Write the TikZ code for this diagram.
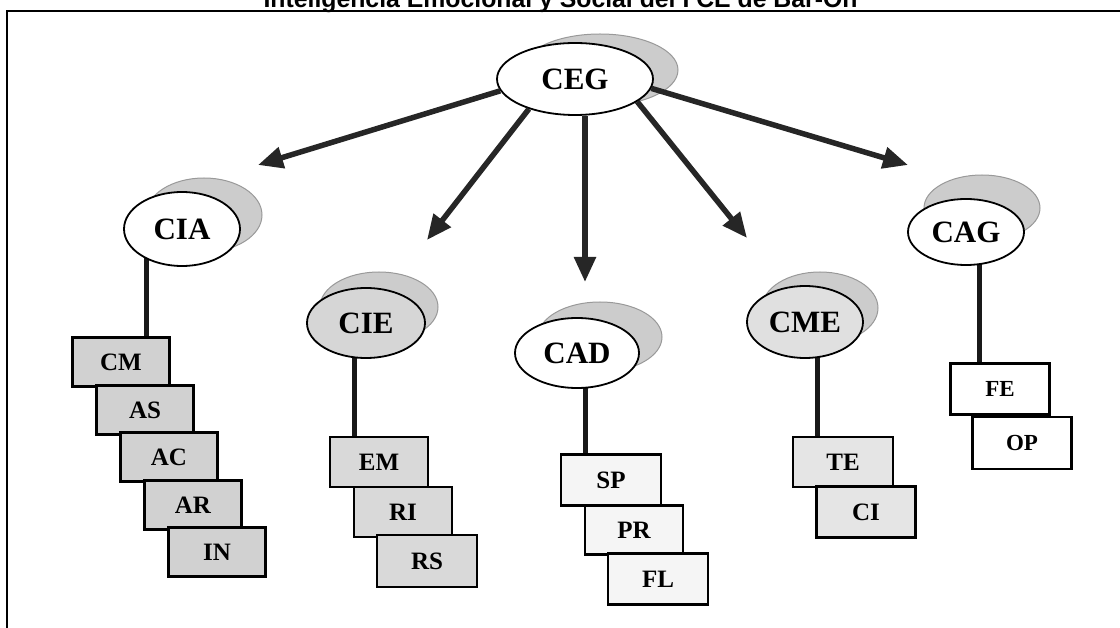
\documentclass[tikz,border=0pt]{standalone}
\usepackage{fontspec}
\setmainfont{Liberation Serif}
\newfontfamily\titlefont{Liberation Sans}
\usetikzlibrary{shapes.geometric,arrows.meta,backgrounds}
\begin{document}
\begin{tikzpicture}[x=1pt,y=-1pt,
  oval/.style={ellipse,draw,line width=1.8pt,inner sep=0pt,font=\fontsize{31}{31}\selectfont\bfseries},
  ovalshadow/.style={ellipse,draw=black!40,line width=1pt,fill=black!20,inner sep=0pt},
  sbox/.style={rectangle,draw,line width=2.6pt,inner sep=0pt,minimum width=97pt,minimum height=49pt,font=\fontsize{25}{25}\selectfont\bfseries},
  stemline/.style={line width=5pt,draw=black!90},
  arr/.style={line width=5.5pt,draw=black!85,-{Triangle[length=25pt,width=21pt]}}
]
\useasboundingbox (0,0) rectangle (1120,628);
% title (clipped at top, as in the reference) and frame
\node[anchor=base,font=\titlefont\fontsize{24.8}{24.8}\selectfont\bfseries,inner sep=0pt] (title) at (560.5,8) {Inteligencia Emocional y Social del I CE de Bar-On};
\draw[line width=1.4pt] (7,628) -- (7,11) -- (1120,11);

% top ellipse
\node[ovalshadow,minimum width=156pt,minimum height=72pt] (CEGs) at (600,70) {};
\node[oval,fill=white,minimum width=156pt,minimum height=72pt] (CEG) at (575,79) {CEG};

% arrow tips
\coordinate (t1) at (258,165);
\coordinate (t2) at (427,240);
\coordinate (t3) at (585,282);
\coordinate (t4) at (747,238);
\coordinate (t5) at (908,165);
\draw[arr] (CEG.189) -- (t1);
\draw[arr] (CEG.213) -- (t2);
\draw[arr] (CEG.south -| t3) -- (t3);
\draw[arr] (CEG.340) -- (t4);
\draw[arr] (CEG.353) -- (t5);

% second level ellipses
\node[ovalshadow,minimum width=116pt,minimum height=74pt] (CIAs) at (204,215) {};
\node[oval,fill=white,minimum width=116pt,minimum height=74pt] (CIA) at (182,229) {CIA};
\node[ovalshadow,minimum width=118pt,minimum height=70pt] (CIEs) at (379,307) {};
\node[oval,fill=black!16,minimum width=118pt,minimum height=70pt] (CIE) at (366,323) {CIE};
\node[ovalshadow,minimum width=124pt,minimum height=70pt] (CADs) at (600,337) {};
\node[oval,fill=white,minimum width=124pt,minimum height=70pt] (CAD) at (577,353) {CAD};
\node[ovalshadow,minimum width=116pt,minimum height=72pt] (CMEs) at (820,308) {};
\node[oval,fill=black!12,minimum width=116pt,minimum height=72pt] (CME) at (805,322) {CME};
\node[ovalshadow,minimum width=116pt,minimum height=66pt] (CAGs) at (982,208) {};
\node[oval,fill=white,minimum width=116pt,minimum height=66pt] (CAG) at (966,232) {CAG};

% boxes CIA
\node[sbox,fill=black!18] (CM) at (121,362) {CM};
\node[sbox,fill=black!18] (AS) at (145,410) {AS};
\node[sbox,fill=black!18] (AC) at (169,457) {AC};
\node[sbox,fill=black!18] (AR) at (193,505) {AR};
\node[sbox,fill=black!18] (IN) at (217,552) {IN};
% boxes CIE
\node[sbox,fill=black!15,minimum width=98pt,minimum height=50pt] (EM) at (379,462) {EM};
\node[sbox,fill=black!15,minimum width=98pt,minimum height=50pt] (RI) at (403,512) {RI};
\node[sbox,fill=black!15,minimum width=100pt,minimum height=52pt] (RS) at (427,561) {RS};
% boxes CAD
\node[sbox,fill=black!4,minimum width=100pt,minimum height=51pt] (SP) at (611,480) {SP};
\node[sbox,fill=black!4,minimum width=98pt,minimum height=49pt] (PR) at (634,530) {PR};
\node[sbox,fill=black!4,minimum width=100pt,minimum height=51pt] (FL) at (658,579) {FL};
% boxes CME
\node[sbox,fill=black!10,minimum width=100pt,minimum height=50pt] (TE) at (843,462) {TE};
\node[sbox,fill=black!10,minimum width=99pt,minimum height=51pt] (CI) at (866,512) {CI};
% boxes CAG
\node[sbox,fill=white,minimum width=99pt,minimum height=51pt,font=\fontsize{23}{23}\selectfont\bfseries] (FE) at (1000,389) {FE};
\node[sbox,fill=white,minimum width=99pt,minimum height=52pt,font=\fontsize{23}{23}\selectfont\bfseries] (OP) at (1022,443) {OP};

% stems
\coordinate (kCIA) at (146,0);
\coordinate (kCIE) at (354,0);
\coordinate (kCAD) at (585,0);
\coordinate (kCME) at (817,0);
\coordinate (kCAG) at (979,0);
\begin{scope}[on background layer]
\draw[stemline] (CIA.center -| kCIA) -- (CM.north -| kCIA);
\draw[stemline] (CIE.center -| kCIE) -- (EM.north -| kCIE);
\draw[stemline] (CAD.center -| kCAD) -- (SP.north -| kCAD);
\draw[stemline] (CME.center -| kCME) -- (TE.north -| kCME);
\draw[stemline] (CAG.center -| kCAG) -- (FE.north -| kCAG);
\end{scope}
\end{tikzpicture}
\end{document}
